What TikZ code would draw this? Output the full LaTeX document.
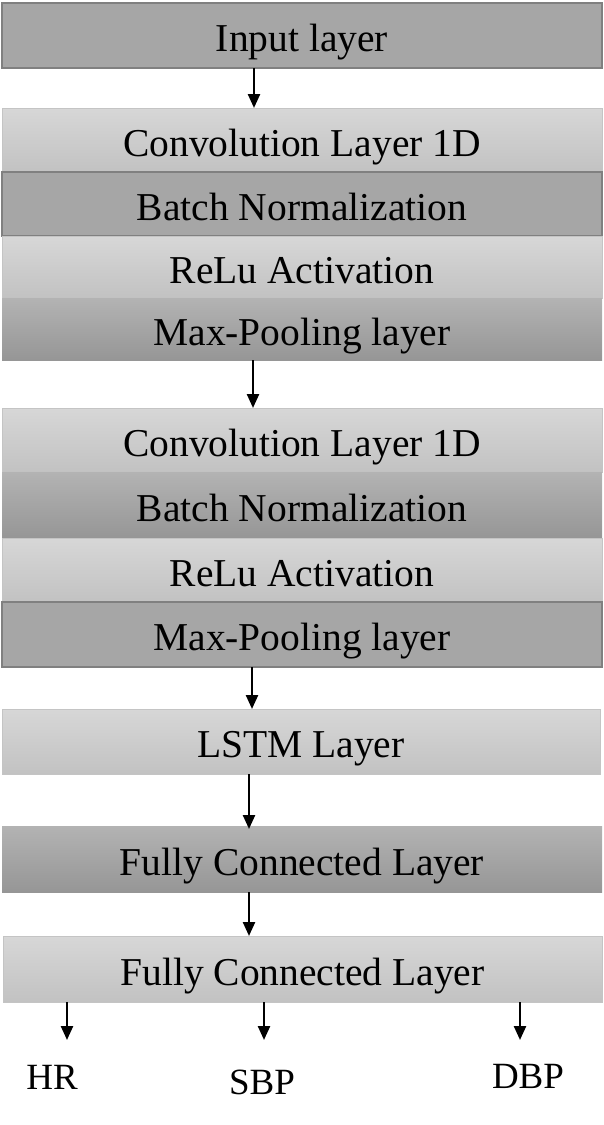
\documentclass[tikz,border=0pt]{standalone}
\usepackage{fontspec}
\setmainfont{Liberation Serif}
\usetikzlibrary{arrows.meta}
\definecolor{ltop}{HTML}{D7D7D7}
\definecolor{lbot}{HTML}{C2C2C2}
\definecolor{lbord}{HTML}{C4C4C4}
\definecolor{dtop}{HTML}{B3B3B3}
\definecolor{dbot}{HTML}{969696}
\definecolor{dflat}{HTML}{A6A6A6}
\definecolor{dbord}{HTML}{808080}
\tikzset{
  layer/.style={minimum width=600pt, inner sep=0pt, outer sep=0pt, text height=40pt, text depth=8pt, font=\fontsize{39.5}{42}\selectfont},
  lightbox/.style={layer, top color=ltop, bottom color=lbot, draw=lbord, line width=0.8pt},
  darkgrad/.style={layer, top color=dtop, bottom color=dbot},
  darkflat/.style={layer, fill=dflat, draw=dbord, line width=1.6pt},
  arr/.style={line width=2.4pt, -{Triangle[length=14pt,width=12pt]}},
  outlbl/.style={inner sep=0pt, font=\fontsize{37}{39}\selectfont}
}
\begin{document}
\begin{tikzpicture}[x=1pt,y=-1pt]
\useasboundingbox (0,0) rectangle (604,1125);
\node[darkflat, minimum height=65pt] (in) at (302,35.5) {Input layer};
\node[lightbox, minimum height=64pt] (c1) at (302,140) {Convolution Layer 1D};
\node[darkflat, minimum height=64pt] (bn1) at (302,204) {Batch Normalization};
\node[lightbox, minimum height=62pt] (r1) at (302,267) {ReLu Activation};
\node[darkgrad, minimum height=62pt] (mp1) at (302,329) {Max-Pooling layer};
\node[lightbox, minimum height=64pt] (c2) at (302,440) {Convolution Layer 1D};
\node[darkgrad, minimum height=66pt] (bn2) at (302,505) {Batch Normalization};
\node[lightbox, minimum height=64pt] (r2) at (302,570) {ReLu Activation};
\node[darkflat, minimum height=65pt] (mp2) at (302,634.5) {Max-Pooling layer};
\node[lightbox, minimum height=65pt, minimum width=598pt] (lstm) at (301,741.5) {LSTM Layer};
\node[darkgrad, minimum height=66pt] (fc1) at (302,859) {Fully Connected Layer};
\node[lightbox, minimum height=66pt, minimum width=599pt] (fc2) at (302.5,969) {Fully Connected Layer};
\coordinate (a1) at (254,0);
\coordinate (a2) at (253,0);
\coordinate (a3) at (252,0);
\coordinate (a4) at (249,0);
\coordinate (o1) at (67,1040);
\coordinate (o2) at (264,1040);
\coordinate (o3) at (520,1040);
\draw[arr] (in.south -| a1) -- (c1.north -| a1);
\draw[arr] (mp1.south -| a2) -- (c2.north -| a2);
\draw[arr] (mp2.south -| a3) -- (lstm.north -| a3);
\draw[arr] (lstm.south -| a4) -- ([yshift=-3pt]fc1.north -| a4);
\draw[arr] (fc1.south -| a4) -- (fc2.north -| a4);
\draw[arr] (fc2.south -| o1) -- (o1);
\draw[arr] (fc2.south -| o2) -- (o2);
\draw[arr] (fc2.south -| o3) -- (o3);
\node[outlbl] (hr) at (52,1077) {HR};
\node[outlbl] (sbp) at (262,1082) {SBP};
\node[outlbl] (dbp) at (528,1076) {DBP};
\end{tikzpicture}
\end{document}
